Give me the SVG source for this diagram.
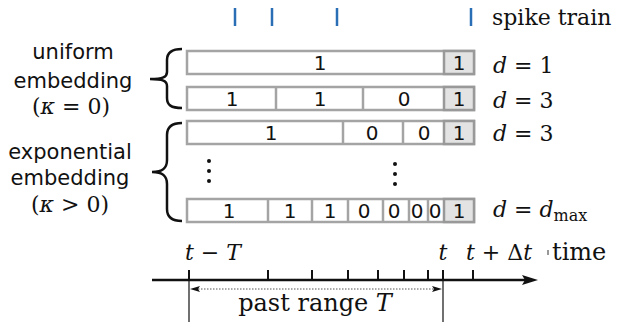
<svg xmlns="http://www.w3.org/2000/svg" width="618" height="322" viewBox="0 0 618 322">
<style>
.bar{fill:#fff;stroke:#a4a4a4;stroke-width:2.5}
.last{fill:#e3e3e3;stroke:#999;stroke-width:2.5}
.div{stroke:#a4a4a4;stroke-width:2.5}
.num{font-family:"DejaVu Sans",sans-serif;font-size:20px;fill:#111;text-anchor:middle}
.lab{font-family:"DejaVu Sans",sans-serif;font-size:21px;fill:#111;text-anchor:middle}
.ser{font-family:"DejaVu Serif",serif;font-size:22px;fill:#111}
.big{font-size:24px}
.it{font-style:italic}
.spk{stroke:#2a6fb5;stroke-width:2.5}
.brace{fill:none;stroke:#111;stroke-width:2.5}
.tick{stroke:#111;stroke-width:2}
.dot{fill:#111}
</style>
<g id="spike-train">
<line class="spk" x1="235" y1="8" x2="235" y2="26"/>
<line class="spk" x1="272" y1="8" x2="272" y2="26"/>
<line class="spk" x1="337" y1="8" x2="337" y2="26"/>
<line class="spk" x1="471" y1="8" x2="471" y2="26"/>
<text class="ser" x="492" y="25">spike train</text>
</g>
<g id="label-uniform">
<text class="lab" x="73" y="59">uniform</text>
<text class="lab" x="73" y="88">embedding</text>
<text class="ser" x="71" y="114" text-anchor="middle">(<tspan class="it">κ</tspan> = 0)</text>
<path class="brace" d="M182,49 C171,49 167,53 167,60 L167,72 C167,77 163,79 150,79 C163,79 167,81 167,86 L167,98 C167,105 171,108 182,108"/>
</g>
<g id="label-exponential">
<text class="lab" x="70" y="159">exponential</text>
<text class="lab" x="70" y="185">embedding</text>
<text class="ser" x="70" y="212" text-anchor="middle">(<tspan class="it">κ</tspan> &gt; 0)</text>
<path class="brace" d="M182,123 C171,123 167,128 167,135 L167,160 C167,168 163,172 152,172 C163,172 167,176 167,184 L167,209 C167,216 171,221 182,221"/>
</g>
<g id="row-d1">
<rect class="bar" x="187" y="51" width="287" height="23"/>
<rect class="last" x="444" y="51" width="30" height="23"/>
<text class="num" x="320" y="70">1</text>
<text class="num" x="459" y="70">1</text>
<text class="ser" x="493" y="73"><tspan class="it">d</tspan> = 1</text>
</g>
<g id="row-uniform-d3">
<rect class="bar" x="187" y="87" width="287" height="23"/>
<line class="div" x1="276" y1="87" x2="276" y2="110"/>
<line class="div" x1="363" y1="87" x2="363" y2="110"/>
<rect class="last" x="444" y="87" width="30" height="23"/>
<text class="num" x="232" y="106">1</text>
<text class="num" x="320" y="106">1</text>
<text class="num" x="404" y="106">0</text>
<text class="num" x="459" y="106">1</text>
<text class="ser" x="493" y="108"><tspan class="it">d</tspan> = 3</text>
</g>
<g id="row-exponential-d3">
<rect class="bar" x="187" y="121" width="287" height="23"/>
<line class="div" x1="343" y1="121" x2="343" y2="144"/>
<line class="div" x1="403" y1="121" x2="403" y2="144"/>
<rect class="last" x="444" y="121" width="30" height="23"/>
<text class="num" x="271" y="140">1</text>
<text class="num" x="372" y="140">0</text>
<text class="num" x="424" y="140">0</text>
<text class="num" x="459" y="140">1</text>
<text class="ser" x="493" y="141"><tspan class="it">d</tspan> = 3</text>
</g>
<g id="dots">
<circle class="dot" cx="209" cy="161" r="2"/>
<circle class="dot" cx="209" cy="171" r="2"/>
<circle class="dot" cx="209" cy="181" r="2"/>
<circle class="dot" cx="395" cy="164" r="2"/>
<circle class="dot" cx="395" cy="174" r="2"/>
<circle class="dot" cx="395" cy="184" r="2"/>
</g>
<g id="row-dmax">
<rect class="bar" x="187" y="199" width="287" height="23"/>
<line class="div" x1="268" y1="199" x2="268" y2="222"/>
<line class="div" x1="312" y1="199" x2="312" y2="222"/>
<line class="div" x1="348" y1="199" x2="348" y2="222"/>
<line class="div" x1="383" y1="199" x2="383" y2="222"/>
<line class="div" x1="409" y1="199" x2="409" y2="222"/>
<line class="div" x1="428" y1="199" x2="428" y2="222"/>
<rect class="last" x="444" y="199" width="30" height="23"/>
<text class="num" x="229" y="218">1</text>
<text class="num" x="290" y="218">1</text>
<text class="num" x="330" y="218">1</text>
<text class="num" x="364" y="218">0</text>
<text class="num" x="394" y="218">0</text>
<text class="num" x="417" y="218">0</text>
<text class="num" x="435" y="218">0</text>
<text class="num" x="459" y="218">1</text>
<text class="ser" x="493" y="217"><tspan class="it">d</tspan> = <tspan class="it">d</tspan><tspan font-size="16" dy="4">max</tspan></text>
</g>
<g id="connectors">
<line x1="152" y1="280" x2="526" y2="280" stroke="#111" stroke-width="2.5"/>
<path d="M538,280 L522,275 L525,280 L522,285 Z" fill="#111"/>
<line class="tick" x1="189" y1="270" x2="189" y2="280"/>
<line class="tick" x1="268" y1="270" x2="268" y2="280"/>
<line class="tick" x1="312" y1="270" x2="312" y2="280"/>
<line class="tick" x1="348" y1="270" x2="348" y2="280"/>
<line class="tick" x1="378" y1="270" x2="378" y2="280"/>
<line class="tick" x1="404" y1="270" x2="404" y2="280"/>
<line class="tick" x1="428" y1="270" x2="428" y2="280"/>
<line class="tick" x1="443" y1="270" x2="443" y2="280"/>
<line class="tick" x1="473" y1="270" x2="473" y2="280"/>
<line x1="548" y1="250" x2="548" y2="255" stroke="#333" stroke-width="1"/>
<line x1="189" y1="281" x2="189" y2="322" stroke="#111" stroke-width="1.2"/>
<line x1="443" y1="281" x2="443" y2="322" stroke="#111" stroke-width="1.2"/>
<line x1="198" y1="289" x2="434" y2="289" stroke="#555" stroke-width="1" stroke-dasharray="1.5 1.5"/>
<path d="M190,289 L200,286 L198,289 L200,292 Z" fill="#111"/>
<path d="M442,289 L432,286 L434,289 L432,292 Z" fill="#111"/>
</g>
<g id="time-labels">
<text class="ser" x="185" y="260"><tspan class="it">t</tspan> − <tspan class="it">T</tspan></text>
<text class="ser it" x="443" y="260" text-anchor="middle">t</text>
<text class="ser" x="466" y="260"><tspan class="it">t</tspan> + Δ<tspan class="it">t</tspan></text>
<text class="ser big" x="552" y="260">time</text>
<text class="ser big" x="315" y="311" text-anchor="middle">past range <tspan class="it">T</tspan></text>
</g>
</svg>
